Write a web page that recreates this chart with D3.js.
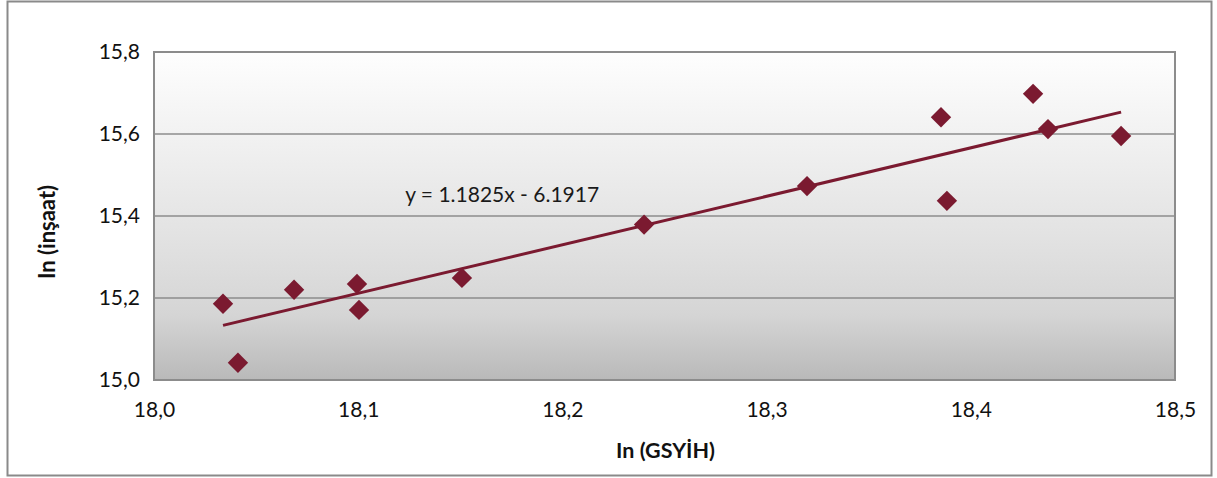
<!DOCTYPE html>
<html><head><meta charset="utf-8">
<script src="https://cdn.jsdelivr.net/npm/d3@7"></script>
<style>
html,body{margin:0;padding:0;background:#fff;}
svg{display:block;font-family:Lato,"Open Sans",sans-serif;}
</style></head>
<body><svg id="c" width="1217" height="478"></svg>
<script>
const gsyih = [18.0338,18.0411,18.0686,18.0994,18.1004,18.1508,18.2400,18.3198,18.3854,18.3883,18.4305,18.4378,18.4736];
const insaat = [15.186,15.042,15.220,15.234,15.171,15.249,15.379,15.473,15.641,15.437,15.698,15.612,15.595];
const xTicks = [18.0,18.1,18.2,18.3,18.4,18.5];
const yTicks = [15.0,15.2,15.4,15.6,15.8];
const slope = [1.1825];
const intercept = [-6.1917];
const eqLabel = ["y = 1.1825x - 6.1917"];
const xTitle = "In (GSYİH)";
const yTitle = "In (inşaat)";

const svg = d3.select("#c");
const L=154, R=1175, T=52, B=380;
const x = d3.scaleLinear().domain([18.0,18.5]).range([L,R]);
const y = d3.scaleLinear().domain([15.0,15.8]).range([B,T]);
const fmt = d => d.toFixed(1).replace(".", ",");
const col = "#7b1a30";

// outer border
svg.append("rect").attr("x",7.5).attr("y",1.5).attr("width",1204).attr("height",474)
  .attr("fill","#fff").attr("stroke","#8a8a8a").attr("stroke-width",2);

const defs = svg.append("defs");
const g = defs.append("linearGradient").attr("id","bg").attr("x1",0).attr("y1",0).attr("x2",0).attr("y2",1);
g.append("stop").attr("offset","0%").attr("stop-color","#fefefe");
g.append("stop").attr("offset","55%").attr("stop-color","#e3e3e3");
g.append("stop").attr("offset","80%").attr("stop-color","#d5d5d5");
g.append("stop").attr("offset","100%").attr("stop-color","#b9b9b9");

svg.append("rect").attr("x",L).attr("y",T).attr("width",R-L).attr("height",B-T).attr("fill","url(#bg)");

// gridlines
svg.append("g").selectAll("line").data(yTicks.filter(v=>v>15.0&&v<15.8)).join("line")
  .attr("x1",L).attr("x2",R).attr("y1",d=>y(d)).attr("y2",d=>y(d))
  .attr("stroke","#8c8c8c").attr("stroke-width",1.3);

svg.append("rect").attr("x",L).attr("y",T).attr("width",R-L).attr("height",B-T)
  .attr("fill","none").attr("stroke","#8c8c8c").attr("stroke-width",2);

// axes
const yAxis = d3.axisLeft(y).tickValues(yTicks).tickFormat(fmt).tickSize(0).tickPadding(14);
const ya = svg.append("g").attr("transform",`translate(${L},0)`).call(yAxis);
ya.select(".domain").remove();
ya.selectAll("text").attr("font-size",21).attr("fill","#111").attr("font-family","Lato");

const xAxis = d3.axisBottom(x).tickValues(xTicks).tickFormat(fmt).tickSize(0).tickPadding(22);
const xa = svg.append("g").attr("transform",`translate(0,${B})`).call(xAxis);
xa.select(".domain").remove();
xa.selectAll("text").attr("font-size",21).attr("fill","#111").attr("font-family","Lato");

// trendline
const xmin = d3.min(gsyih), xmax = d3.max(gsyih);
svg.append("line")
  .attr("x1",x(xmin)).attr("y1",y(slope[0]*xmin+intercept[0]))
  .attr("x2",x(xmax)).attr("y2",y(slope[0]*xmax+intercept[0]))
  .attr("stroke",col).attr("stroke-width",3);

// points
const sym = d3.symbol().type(d3.symbolDiamond2).size(265);
svg.append("g").selectAll("path").data(gsyih.map((v,i)=>[v,insaat[i]])).join("path")
  .attr("d",sym).attr("transform",d=>`translate(${x(d[0])},${y(d[1])})`)
  .attr("fill",col);

// equation
svg.append("text").attr("x",x(18.123)).attr("y",y(15.433)).attr("font-size",21)
  .attr("fill","#1a1a1a").text(eqLabel[0]);

// titles
svg.append("text").attr("x",(L+R)/2+1).attr("y",458).attr("text-anchor","middle")
  .attr("font-size",21.5).attr("font-weight","bold").attr("fill","#111").text(xTitle);
svg.append("text").attr("transform",`translate(55,${(T+B)/2+16}) rotate(-90)`).attr("text-anchor","middle")
  .attr("font-size",22).attr("font-weight","bold").attr("fill","#111").text(yTitle);
</script></body></html>
